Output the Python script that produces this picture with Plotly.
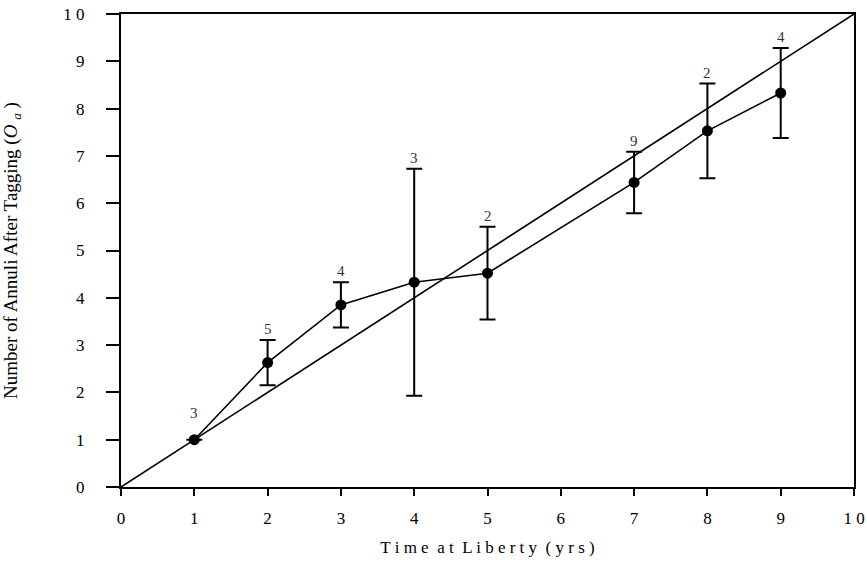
import plotly.graph_objects as go

# Data
time_years = [1, 2, 3, 4, 5, 7, 8, 9]
annuli_mean = [1.0, 2.63, 3.85, 4.33, 4.52, 6.44, 7.53, 8.33]
annuli_err = [0.0, 0.48, 0.48, 2.40, 0.98, 0.65, 1.00, 0.95]
sample_n = [3, 5, 4, 3, 2, 9, 2, 4]
ref_line_x = [0, 10]
ref_line_y = [0, 10]
tick_vals = list(range(0, 11))
tick_text = ["0", "1", "2", "3", "4", "5", "6", "7", "8", "9", "1 0"]

serif = "Liberation Serif"

fig = go.Figure()

# 1:1 reference line
fig.add_trace(go.Scatter(
    x=ref_line_x, y=ref_line_y, mode="lines",
    line=dict(color="black", width=1.6), showlegend=False, hoverinfo="skip"))

# Observed means with error bars
fig.add_trace(go.Scatter(
    x=time_years, y=annuli_mean, mode="lines+markers",
    line=dict(color="black", width=1.6),
    marker=dict(color="black", size=11, symbol="circle"),
    error_y=dict(type="data", array=annuli_err, visible=True,
                 color="black", thickness=2, width=8),
    showlegend=False))

# Sample-size labels above error bars
for x, y, e, n in zip(time_years, annuli_mean, annuli_err, sample_n):
    fig.add_annotation(
        x=x, y=y + e, text=str(n), showarrow=False,
        yanchor="bottom", xanchor="center",
        yshift=1 if e > 0 else 17,
        font=dict(family=serif, size=15, color="#333"))

axis_common = dict(
    range=[0, 10], tickvals=tick_vals, ticktext=tick_text,
    showgrid=False, zeroline=False, automargin=False,
    showline=True, linecolor="black", linewidth=2, mirror=True,
    ticks="outside", tickcolor="black", tickwidth=2,
    tickfont=dict(family=serif, size=17, color="black"),
)

fig.update_xaxes(
    **axis_common, ticklen=7, ticklabelstandoff=8,
    title=dict(text="T i m e  a t  L i b e r t y  ( y r s )",
               font=dict(family=serif, size=17, color="black"), standoff=14))
fig.update_yaxes(
    **axis_common, ticklen=13, ticklabelstandoff=18,
    title=dict(text="Number of Annuli After Tagging (<i>O</i> <sub><i>a</i></sub> )",
               font=dict(family=serif, size=19, color="black"), standoff=47))

fig.update_layout(
    width=867, height=564,
    margin=dict(l=121, r=13, t=14, b=77),
    plot_bgcolor="white", paper_bgcolor="white",
    hovermode=False,
)

fig.write_html("out.html",
               config={"displayModeBar": False},
               post_script="document.body.style.margin='0';")
